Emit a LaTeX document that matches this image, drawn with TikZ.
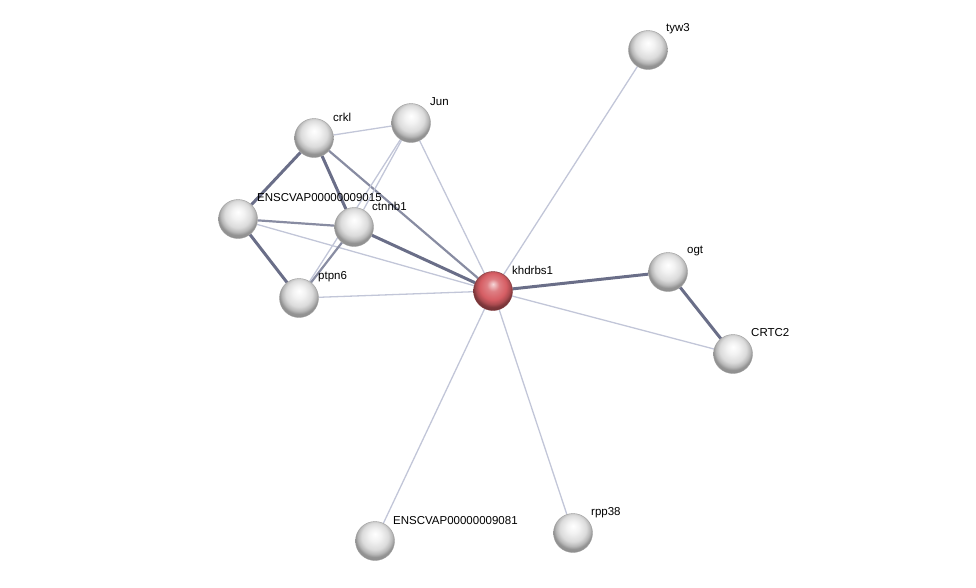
\documentclass[tikz,border=0pt]{standalone}
\usepackage{fontspec}
\setmainfont{Liberation Sans}
\usetikzlibrary{backgrounds}
\definecolor{thinE}{RGB}{194,198,216}
\definecolor{midE}{RGB}{136,140,162}
\definecolor{thickE}{RGB}{106,110,136}
\definecolor{khred}{RGB}{214,94,100}
\pgfdeclareradialshading{grayball}{\pgfpoint{0bp}{9bp}}{color(0bp)=(white); color(8bp)=(white!95!black); color(17bp)=(white!86!black); color(22bp)=(white!72!black); color(25bp)=(white!58!black); color(50bp)=(white!40!black)}
\pgfdeclareradialshading{redball}{\pgfpoint{0bp}{9bp}}{color(0bp)=(khred!25!white); color(8bp)=(khred!80!white); color(17bp)=(khred); color(22bp)=(khred!80!black); color(25bp)=(khred!60!black); color(50bp)=(black)}
\begin{document}
\begin{tikzpicture}[x=1pt,y=-1pt,
  prot/.style={circle, minimum size=39pt, inner sep=0pt, shading=grayball, draw=white!62!black, line width=0.4pt},
  hub/.style={circle, minimum size=39pt, inner sep=0pt, shading=redball, draw=khred!60!black, line width=0.4pt},
  lbl/.style={anchor=west, inner sep=0pt, font=\fontsize{11.5}{13}\selectfont},
  thinedge/.style={draw=thinE, line width=1.3pt},
  midedge/.style={draw=midE, line width=2.2pt},
  thickedge/.style={draw=thickE, line width=3pt}]
\useasboundingbox (0,0) rectangle (976,587);

\node[prot] (tyw3) at (648,50) {};
\node[prot] (jun) at (411,123) {};
\node[prot] (crkl) at (314,138) {};
\node[prot] (e15) at (238,219) {};
\node[prot] (ctnnb1) at (354,227) {};
\node[prot] (ptpn6) at (299,298) {};
\node[hub] (kh) at (493,291) {};
\node[prot] (ogt) at (668,272) {};
\node[prot] (crtc2) at (733,354) {};
\node[prot] (e81) at (375,541) {};
\node[prot] (rpp38) at (573,533) {};

\begin{scope}[on background layer]
\path[thinedge] (crkl) -- (jun);
\path[thickedge] (crkl) -- (e15);
\path[thickedge] (crkl) -- (ctnnb1);
\path[midedge] (crkl) -- (kh);
\path[thinedge] (jun) -- (ctnnb1);
\path[thinedge] (jun) -- (ptpn6);
\path[thinedge] (jun) -- (kh);
\path[midedge] (e15) -- (ctnnb1);
\path[thinedge] (e15) -- (kh);
\path[thickedge] (e15) -- (ptpn6);
\path[thickedge] (ctnnb1) -- (kh);
\path[midedge] (ctnnb1) -- (ptpn6);
\path[thinedge] (ptpn6) -- (kh);
\path[thinedge] (kh) -- (tyw3);
\path[thickedge] (kh) -- (ogt);
\path[thinedge] (kh) -- (crtc2);
\path[thickedge] (ogt) -- (crtc2);
\path[thinedge] (kh) -- (e81);
\path[thinedge] (kh) -- (rpp38);
\end{scope}

\node[lbl] (ltyw3) at (666,29) {tyw3};
\node[lbl] (ljun) at (430,102) {Jun};
\node[lbl] (lcrkl) at (333,117) {crkl};
\node[lbl] (le15) at (257,198) {ENSCVAP00000009015};
\node[lbl] (lctnnb1) at (372,206) {ctnnb1};
\node[lbl] (lptpn6) at (318,277) {ptpn6};
\node[lbl] (lkh) at (512,270) {khdrbs1};
\node[lbl] (logt) at (687,251) {ogt};
\node[lbl] (lcrtc2) at (751,333) {CRTC2};
\node[lbl] (le81) at (393,521) {ENSCVAP00000009081};
\node[lbl] (lrpp38) at (591,513) {rpp38};
\end{tikzpicture}
\end{document}
